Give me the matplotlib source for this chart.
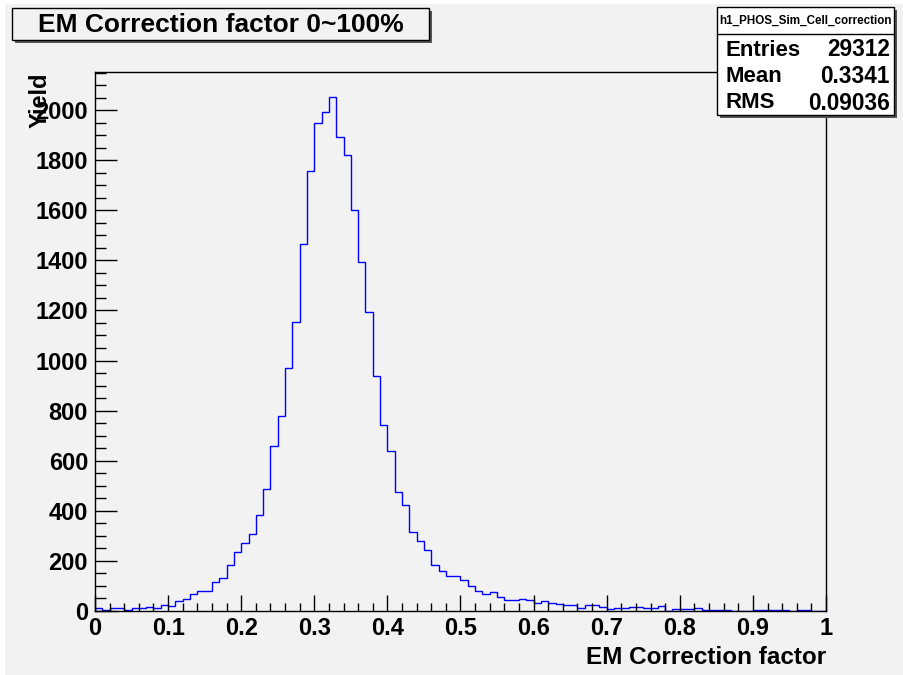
import numpy as np
import matplotlib
matplotlib.use("Agg")
import matplotlib.pyplot as plt
from matplotlib.patches import Rectangle
from matplotlib.lines import Line2D
from matplotlib.ticker import MultipleLocator

plt.rcParams['font.family'] = ['Liberation Sans', 'DejaVu Sans']
plt.rcParams['font.weight'] = 'bold'

# ---- data ----
bin_edges = np.linspace(0.0, 1.0, 101)
counts = [12, 4, 12, 12, 3, 11, 11, 15, 12, 23,
          20, 39, 49, 69, 79, 81, 116, 133, 184, 235,
          273, 307, 382, 486, 657, 780, 971, 1154, 1464, 1755,
          1947, 1993, 2051, 1891, 1819, 1600, 1394, 1192, 940, 741,
          640, 476, 422, 317, 278, 244, 182, 160, 138, 138,
          124, 101, 79, 68, 76, 55, 45, 45, 48, 43,
          33, 40, 32, 28, 23, 25, 13, 23, 23, 16,
          8, 12, 12, 16, 16, 12, 12, 20, 0, 7,
          6, 6, 10, 3, 3, 3, 3, 1, 1, 0,
          4, 2, 2, 2, 2, 0, 2, 2, 0, 1]
xtick_labels = ['0', '0.1', '0.2', '0.3', '0.4', '0.5', '0.6', '0.7', '0.8', '0.9', '1']
title = "EM Correction factor 0~100%"
xlabel = "EM Correction factor"
ylabel = "Yield"
hist_name = "h1_PHOS_Sim_Cell_correction"
stat_names = ["Entries", "Mean", "RMS"]
stat_values = ["29312", "0.3341", "0.09036"]

W, H = 904, 675
BG = '#f2f2f2'
fig = plt.figure(figsize=(W / 100, H / 100), dpi=100, facecolor='white')


def fx(x):
    return x / W


def fy(y):
    return 1 - y / H


# gray canvas
fig.add_artist(Rectangle((fx(5), fy(675)), fx(899), 671 / H, facecolor=BG,
                         edgecolor='none', transform=fig.transFigure, zorder=0))

ax = fig.add_axes([fx(95), fy(611), fx(826 - 95), (611 - 72) / H])
ax.set_facecolor(BG)
ax.stairs(counts, bin_edges, color='#0000ff', lw=1.0)
ax.set_xlim(0, 1)
ax.set_ylim(0, 2152)

ax.xaxis.set_minor_locator(MultipleLocator(0.02))
ax.yaxis.set_major_locator(MultipleLocator(200))
ax.yaxis.set_minor_locator(MultipleLocator(50))
ax.set_xticks(np.linspace(0, 1, len(xtick_labels)))
ax.set_xticklabels(xtick_labels)

ax.tick_params(axis='x', which='major', direction='in', length=11.5, width=1,
               labelsize=17, pad=4)
ax.tick_params(axis='x', which='minor', direction='in', length=5.8, width=1)
ax.tick_params(axis='y', which='major', direction='in', length=15.8, width=1,
               labelsize=17, pad=5)
ax.tick_params(axis='y', which='minor', direction='in', length=8, width=1)
for lab in ax.get_xticklabels() + ax.get_yticklabels():
    lab.set_fontweight('bold')
for s in ax.spines.values():
    s.set_color('black')
    s.set_linewidth(1.0)

# axis titles
fig.text(fx(826), fy(658), xlabel, ha='right', va='center', fontsize=17.5,
         fontweight='bold')
fig.text(fx(40), fy(73), ylabel, ha='center', va='top', rotation=90,
         fontsize=17, fontweight='bold')


def box(x0, y0, x1, y1, face, z=5):
    fig.add_artist(Rectangle((fx(x0 + 3), fy(y1 + 3)), fx(x1 - x0), (y1 - y0) / H,
                             facecolor='#555555', edgecolor='none',
                             transform=fig.transFigure, zorder=z))
    fig.add_artist(Rectangle((fx(x0), fy(y1)), fx(x1 - x0), (y1 - y0) / H,
                             facecolor=face, edgecolor='black', lw=1,
                             transform=fig.transFigure, zorder=z + 1))


# title box
box(12, 8, 429, 40, BG)
fig.text(fx(221), fy(25), title, ha='center', va='center', fontsize=19,
         fontweight='bold', zorder=10)

# stats box
box(717, 7, 894, 115, 'white')
fig.add_artist(Line2D([fx(717), fx(894)], [fy(34), fy(34)], color='black', lw=1,
                      transform=fig.transFigure, zorder=8))
fig.text(fx(806), fy(21), hist_name, ha='center', va='center', fontsize=8.4,
         fontweight='bold', zorder=10)
for i, (n, v) in enumerate(zip(stat_names, stat_values)):
    y = 50 + i * 26.5
    fig.text(fx(726), fy(y), n, ha='left', va='center', fontsize=16,
             fontweight='bold', zorder=10)
    fig.text(fx(890), fy(y), v, ha='right', va='center', fontsize=16.3,
             fontweight='bold', zorder=10)

fig.savefig('out.png', dpi=100, facecolor=fig.get_facecolor())
